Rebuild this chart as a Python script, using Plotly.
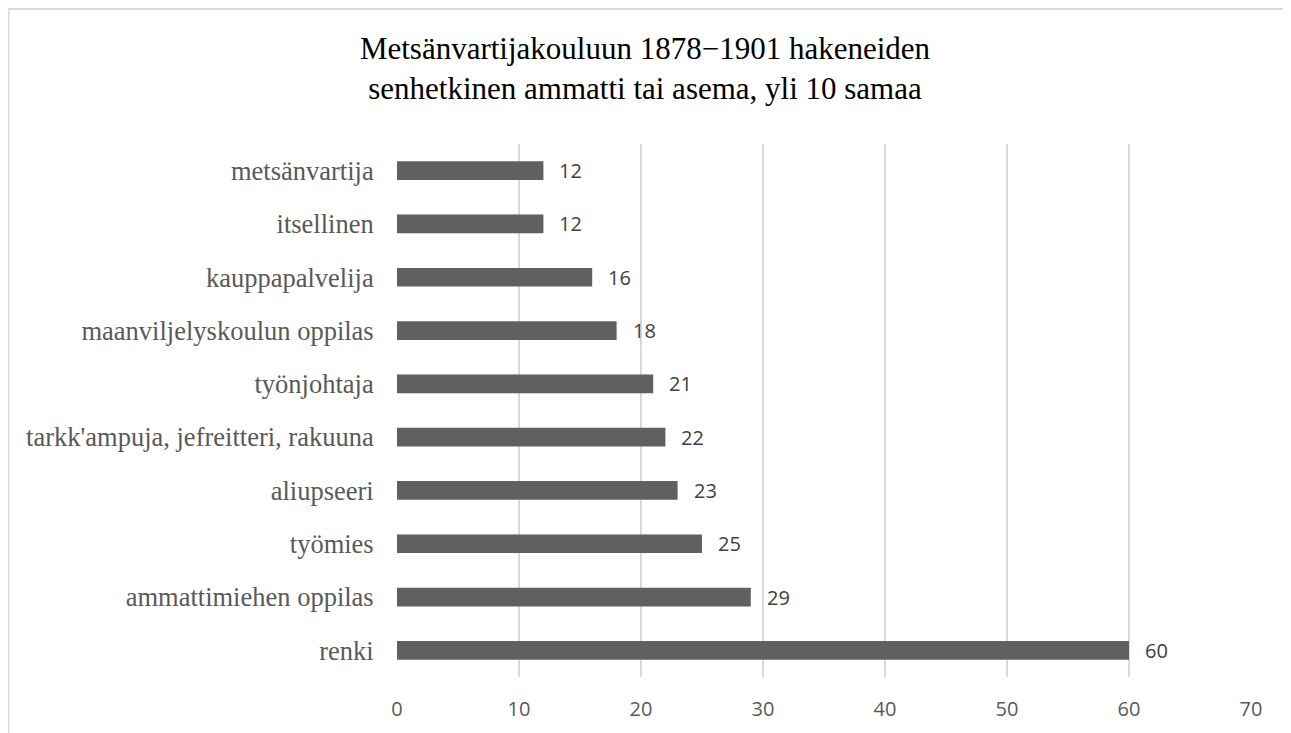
import plotly.graph_objects as go

# Data (bottom to top)
categories = [
    "renki",
    "ammattimiehen oppilas",
    "työmies",
    "aliupseeri",
    "tarkk'ampuja, jefreitteri, rakuuna",
    "työnjohtaja",
    "maanviljelyskoulun oppilas",
    "kauppapalvelija",
    "itsellinen",
    "metsänvartija",
]
values = [60, 29, 25, 23, 22, 21, 18, 16, 12, 12]
x_ticks = [0, 10, 20, 30, 40, 50, 60, 70]

title_text = "Metsänvartijakouluun 1878−1901 hakeneiden<br>senhetkinen ammatti tai asema, yli 10 samaa"

W, H = 1291, 733
# page is offset by 8px body margin
L, R, T, B = 389, 48, 136, 64

fig = go.Figure()
fig.add_trace(go.Bar(
    x=values,
    y=categories,
    orientation="h",
    marker=dict(color="#606060", line=dict(width=0)),
    hoverinfo="x+y",
))

annotations = []
for c, v in zip(categories, values):
    annotations.append(dict(
        x=v, y=c, xref="x", yref="y",
        text=str(v), showarrow=False,
        xanchor="left", yanchor="middle", xshift=14,
        font=dict(family="Open Sans", size=20, color="#404040"),
    ))

pw = W - L - R
ph = H - T - B
fig.update_layout(
    width=W, height=H,
    margin=dict(l=L, r=R, t=T, b=B, pad=0),
    paper_bgcolor="white",
    plot_bgcolor="white",
    showlegend=False,
    bargap=0.65,
    title=dict(
        text=title_text,
        x=(645 - 8) / W, xanchor="center",
        y=1 - 50.5 / H, yanchor="middle", yref="container",
        font=dict(family="Liberation Serif", size=31, color="#000000"),
    ),
    xaxis=dict(
        range=[0, 70],
        tickvals=x_ticks,
        showgrid=True, gridcolor="#d9d9d9", gridwidth=2,
        zeroline=False, showline=False,
        ticks="outside", ticklen=14, tickcolor="rgba(0,0,0,0)",
        tickfont=dict(family="Open Sans", size=20, color="#595959"),
        fixedrange=True,
    ),
    yaxis=dict(
        type="category",
        categoryorder="array", categoryarray=categories,
        showgrid=False, zeroline=False, showline=False,
        ticks="outside", ticklen=17, tickcolor="rgba(0,0,0,0)",
        tickfont=dict(family="Liberation Serif", size=26.5, color="#595959"),
        fixedrange=True,
    ),
    annotations=annotations,
    shapes=[dict(
        type="rect", xref="paper", yref="paper",
        x0=(0.5 - L) / pw, x1=2.0,
        y0=-1.0, y1=(H - B - 1) / ph,
        line=dict(color="#d9d9d9", width=2),
        fillcolor="rgba(0,0,0,0)",
        layer="below",
    )],
)

fig.write_html("out.html")
